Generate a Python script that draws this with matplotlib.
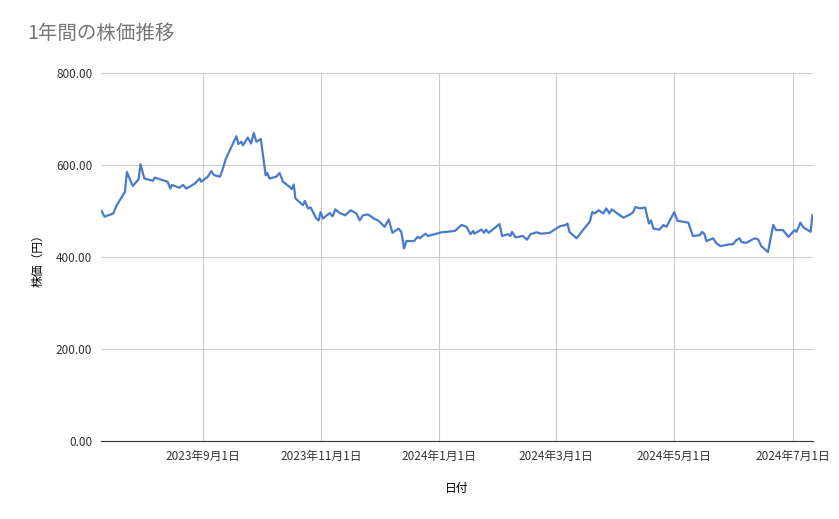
import numpy as np
import pandas as pd
import matplotlib.pyplot as plt
import matplotlib.dates as mdates

plt.rcParams['font.family'] = ['Noto Sans CJK JP', 'DejaVu Sans']

# days since 2023-09-01
days = [-52, -50.5, -46, -44.5, -40, -39, -36, -33, -32, -30, -25.6, -24.7, -18, -16.6, -15.8,
        -12, -10, -8.4, -4, -1.5, -0.7, 2.7, 4.5, 6, 9, 10.5, 12, 17.4, 18.5, 20, 20.8, 23.3,
        25, 26.4, 27.7, 30, 32.5, 33.3, 34.5, 38, 39.7, 41.4, 44.8, 46, 47, 47.8, 51.7, 52.7,
        54.3, 55.7, 58.6, 59.8, 60.8, 62, 65.5, 67, 68.4, 70.6, 73.5, 76.3, 79.2, 81, 82.6,
        85.2, 88.7, 90.4, 93.8, 95.9, 97.8, 101, 102.4, 103.8, 105, 109, 110.7, 111.9, 114.8,
        116.1, 123, 130, 133.4, 136, 138, 139.4, 140, 143.7, 145, 146, 147.4, 153, 154.3,
        157.4, 158.6, 159.4, 161.3, 165, 167.2, 169, 172, 174.6, 178.9, 181.4, 184, 187, 188,
        189, 192.7, 196.2, 199.5, 200.8, 202, 204, 206.5, 208, 209.6, 210.8, 214.3, 216.8,
        220.3, 221.7, 223, 225.3, 228, 230, 231, 232.3, 235.4, 237.5, 239, 243, 244.7, 250.3,
        252.6, 256.4, 257.3, 258.5, 259.6, 263, 264.8, 266.8, 271.6, 273.3, 275, 276.8, 277.6,
        280, 284.5, 286.2, 287.9, 291.3, 294, 295.4, 299, 301.8, 305, 306, 308, 309.5, 313.3,
        314.2]
prices = [500, 488, 495, 511, 542, 585, 555, 569, 602, 571, 566, 573, 564, 549, 557,
          551, 557, 549, 560, 571, 564, 575, 587, 578, 575, 593, 614, 663, 646, 651, 643, 660,
          647, 670, 651, 657, 578, 583, 571, 575, 583, 564, 553, 548, 558, 528, 513, 522,
          506, 508, 484, 480, 498, 484, 496, 489, 504, 496, 491, 502, 495, 480, 491,
          493, 483, 480, 466, 482, 453, 462, 455, 419, 435, 435, 444, 441, 451,
          446, 454, 457, 470, 466, 450, 457, 451, 460, 453, 460, 453, 472, 446,
          450, 446, 455, 443, 446, 438, 450, 454, 451, 453, 460, 467, 470, 473,
          455, 441, 460, 477, 498, 495, 502, 495, 506, 495, 504, 493, 486,
          493, 497, 509, 506, 508, 473, 480, 462, 460, 470, 466, 498, 479, 475,
          446, 448, 455, 451, 435, 441, 430, 424, 428, 428, 437, 441, 433,
          431, 441, 439, 424, 411, 470, 459, 459, 444, 459, 455, 475, 465, 455,
          491]

base = pd.Timestamp('2023-09-01')
dates = [base + pd.Timedelta(days=d) for d in days]

fig = plt.figure(figsize=(8.39, 5.19), dpi=100)
ax = fig.add_axes([0.120, 0.150, 0.849, 0.709])
ax.plot(dates, prices, color='#4a7bcb', lw=1.6)

ax.set_ylim(0, 800)
ax.set_yticks([0, 200, 400, 600, 800])
ax.set_yticklabels(['%.2f' % v for v in [0, 200, 400, 600, 800]], fontsize=8.5, color='#333333')
ax.set_xlim(base + pd.Timedelta(days=-52.5), base + pd.Timedelta(days=314.5))
ticks = pd.to_datetime(['2023-09-01', '2023-11-01', '2024-01-01', '2024-03-01', '2024-05-01', '2024-07-01'])
ax.set_xticks(ticks)
ax.set_xticklabels([f'{t.year}年{t.month}月{t.day}日' for t in ticks], fontsize=8.5, color='#333333')
ax.grid(True, color='#cccccc', lw=0.8)
ax.tick_params(length=0, pad=6)
for s in ['top', 'right', 'left']:
    ax.spines[s].set_visible(False)
ax.spines['bottom'].set_color('#333333')
ax.set_xlabel('日付', fontsize=8.5, labelpad=14)
ax.set_ylabel('株価（円）', fontsize=8.5, labelpad=8)
fig.text(0.033, 0.925, '1年間の株価推移', fontsize=14, color='#757575')

fig.savefig('out.png')
